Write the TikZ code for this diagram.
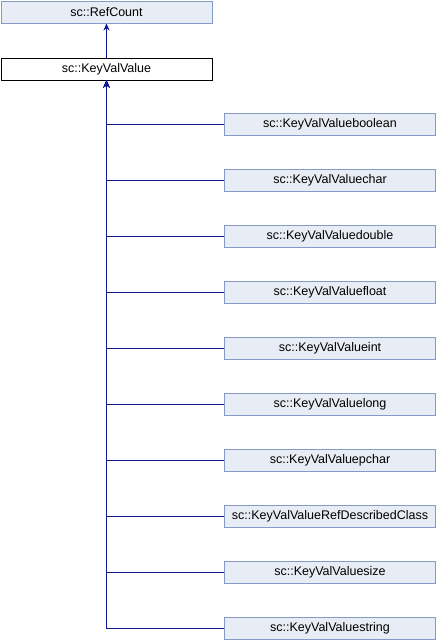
\documentclass[tikz,border=0pt]{standalone}
\usepackage{fontspec}
\setmainfont{Liberation Sans}
\usetikzlibrary{arrows.meta}
\definecolor{boxfill}{RGB}{232,236,245}
\definecolor{boxline}{RGB}{132,154,201}
\definecolor{edgeblue}{RGB}{16,24,150}

\begin{document}
\begin{tikzpicture}[x=1pt, y=-1pt,
  cls/.style={draw=boxline, fill=boxfill, line width=1pt, minimum width=211pt, minimum height=22pt, inner sep=0pt, anchor=north west, font=\fontsize{12.5}{14}\selectfont},
  cur/.style={cls, draw=black, fill=white},
  inh/.style={edgeblue, line width=1pt, -{Stealth[length=7pt, width=6pt]}}]
\useasboundingbox (0, 0) rectangle (436, 640);

\node [cls] (refcount) at (0.5, 0.5) {sc::RefCount};
\node [cur] (keyval) at (0.5, 57.5) {sc::KeyValValue};
\draw [inh] (keyval.north) -- (refcount.south);

\foreach \n/\t [count=\i from 0] in {boolean/boolean, char/char, double/double, float/float, int/int, long/long, pchar/pchar, refdesc/RefDescribedClass, size/size, string/string} {
  \node [cls] (\n) at (224, 112.5 + 56*\i) {sc::KeyValValue\t};
  \draw [inh] (\n.west) -| (keyval.south);
}
\end{tikzpicture}
\end{document}
